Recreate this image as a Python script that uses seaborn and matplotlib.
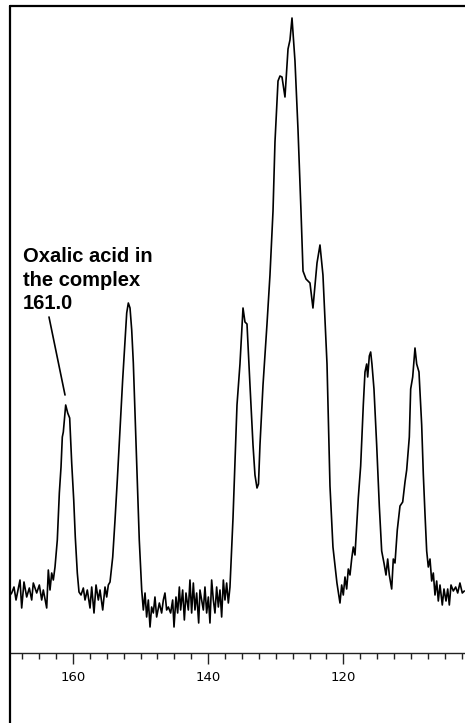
import matplotlib
matplotlib.use("Agg")
import matplotlib.pyplot as plt
from matplotlib.lines import Line2D
from matplotlib.ticker import MultipleLocator
import seaborn as sns

# 13C CP/MAS spectrum (ppm, arbitrary intensity)
base_a_ppm = [169.30, 169.07, 168.73, 168.43, 167.84, 167.59, 167.25, 166.85, 166.46,
              166.11, 165.87, 165.37, 164.98, 164.63, 164.39, 163.89, 163.65, 163.40,
              163.15, 162.91, 162.66]
base_a_int = [0, 2, 8, -5, 15, -13, 13, -2, 7, -5, 12, 2, 10, -5, 5, -13, 25, 5, 22, 15, 28]

oxalic_ppm = [162.32, 162.02, 161.77, 161.58, 161.43, 161.08, 160.78, 160.49, 160.19,
              159.89, 159.66, 159.36, 159.11]
oxalic_int = [55, 102, 128, 158, 163, 190, 182, 177, 132, 95, 58, 22, 3]

base_b_ppm = [158.81, 158.47, 158.22, 157.88, 157.48, 157.23, 156.89, 156.59, 156.25,
              156.00, 155.60, 155.26, 155.01, 154.77, 154.52]
base_b_int = [0, 7, -5, 5, -13, 8, -18, 10, -5, 5, -15, 8, -2, 10, 13]

peak152_ppm = [154.12, 153.78, 153.44, 153.04, 152.65, 152.30, 152.05, 151.81, 151.56,
               151.31, 151.07, 150.82, 150.48, 150.19, 149.83]
peak152_int = [38, 75, 115, 165, 215, 255, 282, 292, 287, 265, 232, 182, 115, 55, 5]

base_c_ppm = [149.59, 149.34, 149.10, 148.85, 148.60, 148.36, 148.11, 147.87, 147.62,
              147.22, 146.88, 146.63, 146.39, 146.14, 145.89, 145.55, 145.25, 145.05,
              144.76, 144.51, 144.26, 144.07, 143.77, 143.52, 143.28, 142.93, 142.69,
              142.44, 142.19, 141.95, 141.70, 141.40, 141.21, 140.96, 140.71, 140.47,
              140.22, 139.97, 139.73, 139.48, 139.23, 138.99, 138.74, 138.49, 138.25,
              138.00, 137.75, 137.51, 137.26, 137.01, 136.77]
base_c_int = [-15, 2, -22, -5, -32, -12, -18, -2, -22, -8, -18, -5, 2, -15, -12, -18, -5,
              -32, -2, -18, 8, -15, 5, -25, 2, -15, 15, -18, 12, -15, 2, -28, 5, -5, -15,
              8, -18, -2, -28, 15, -5, -18, 8, -12, 5, -22, 15, -5, 12, -8, 8]

aromatic_ppm = [136.32, 135.73, 135.29, 134.84, 134.55, 134.25, 133.81, 133.36, 133.07,
                132.77, 132.55, 132.33, 131.88, 131.29, 130.85, 130.40, 130.11, 129.66,
                129.37, 129.07, 128.63, 128.18, 127.89, 127.59, 127.15, 126.70, 126.26,
                125.96, 125.52, 124.93, 124.49, 123.89, 123.45, 123.01, 122.41, 121.97,
                121.53, 120.94, 120.49]
aromatic_int = [77, 190, 231, 287, 273, 271, 210, 150, 120, 107, 111, 150, 210, 271, 320,
                384, 453, 514, 519, 518, 498, 546, 555, 577, 534, 465, 384, 324, 316, 312,
                287, 332, 350, 320, 231, 109, 48, 12, -8]

upfield_ppm = [120.24, 120.00, 119.75, 119.50, 119.26, 119.01, 118.76, 118.52, 118.27,
               118.02, 117.78, 117.43, 117.04, 116.79, 116.54, 116.39, 116.15, 115.95,
               115.76, 115.46, 115.06, 114.67, 114.32, 113.98, 113.68, 113.43, 113.19,
               112.84, 112.60, 112.35, 112.01, 111.61, 111.21, 110.87, 110.62, 110.23,
               110.03, 109.73, 109.39, 109.14, 108.80, 108.40, 108.16, 107.91, 107.66,
               107.42, 107.17, 106.92, 106.68, 106.43, 106.18, 105.94, 105.69, 105.35,
               105.10, 104.80, 104.55, 104.31, 104.06, 103.72, 103.37, 103.07, 102.74,
               102.39, 102.09]
upfield_int = [10, 0, 18, 6, 26, 20, 36, 48, 40, 69, 97, 129, 190, 223, 231, 218, 239, 243,
               231, 206, 150, 89, 44, 32, 20, 36, 20, 6, 36, 32, 65, 89, 93, 113, 125, 158,
               206, 218, 247, 231, 223, 170, 121, 81, 44, 28, 36, 14, 22, 0, 14, -6, 10,
               -10, 6, -6, 6, -10, 10, 4, 8, 2, 12, 2, 4]

ppm = base_a_ppm + oxalic_ppm + base_b_ppm + peak152_ppm + base_c_ppm + aromatic_ppm + upfield_ppm
intensity = base_a_int + oxalic_int + base_b_int + peak152_int + base_c_int + aromatic_int + upfield_int

major_ticks = [160, 140, 120]

sns.set_style("white")
plt.rcParams["font.family"] = ["DejaVu Sans"]

fig = plt.figure(figsize=(4.65, 7.23), dpi=100)
ax = fig.add_axes([10 / 465, 1 - 653 / 723, 455 / 465, 647 / 723])

sns.lineplot(x=ppm, y=intensity, ax=ax, color="black", linewidth=1.2,
             sort=False, estimator=None)

ax.set_xlim(169.32, 101.99)
ax.set_ylim(-58, 589)
ax.set_facecolor("white")

for side in ["left", "right", "top"]:
    ax.spines[side].set_visible(False)
ax.spines["bottom"].set_color("#222222")
ax.spines["bottom"].set_linewidth(1.0)

ax.set_yticks([])
ax.set_xticks(major_ticks)
ax.set_xticklabels([str(t) for t in major_ticks])
ax.xaxis.set_minor_locator(MultipleLocator(2.5))
ax.tick_params(axis="x", which="major", direction="out", length=8, width=1.0,
               color="#222222", labelsize=9.5, labelcolor="black", pad=5, bottom=True)
ax.tick_params(axis="x", which="minor", direction="out", length=4, width=1.0,
               color="#222222", bottom=True)

# label and leader line for the oxalate carbon
ax.text(167.40, 348, "Oxalic acid in\nthe complex\n161.0", ha="left", va="top",
        fontsize=14.5, fontweight="bold", color="black",
        family=["Liberation Sans", "DejaVu Sans"], linespacing=1.3)
ax.annotate("", xy=(161.18, 200), xytext=(163.55, 278),
            arrowprops=dict(arrowstyle="-", color="black", lw=1.2,
                            shrinkA=0, shrinkB=0))

# frame lines along the left and top of the picture
fig.add_artist(Line2D([10 / 465, 10 / 465], [0, 1 - 6 / 723], color="black",
                      linewidth=1.6, transform=fig.transFigure))
fig.add_artist(Line2D([10 / 465, 1], [1 - 6 / 723, 1 - 6 / 723], color="black",
                      linewidth=1.6, transform=fig.transFigure))

fig.savefig("out.png", dpi=100, facecolor="white")
